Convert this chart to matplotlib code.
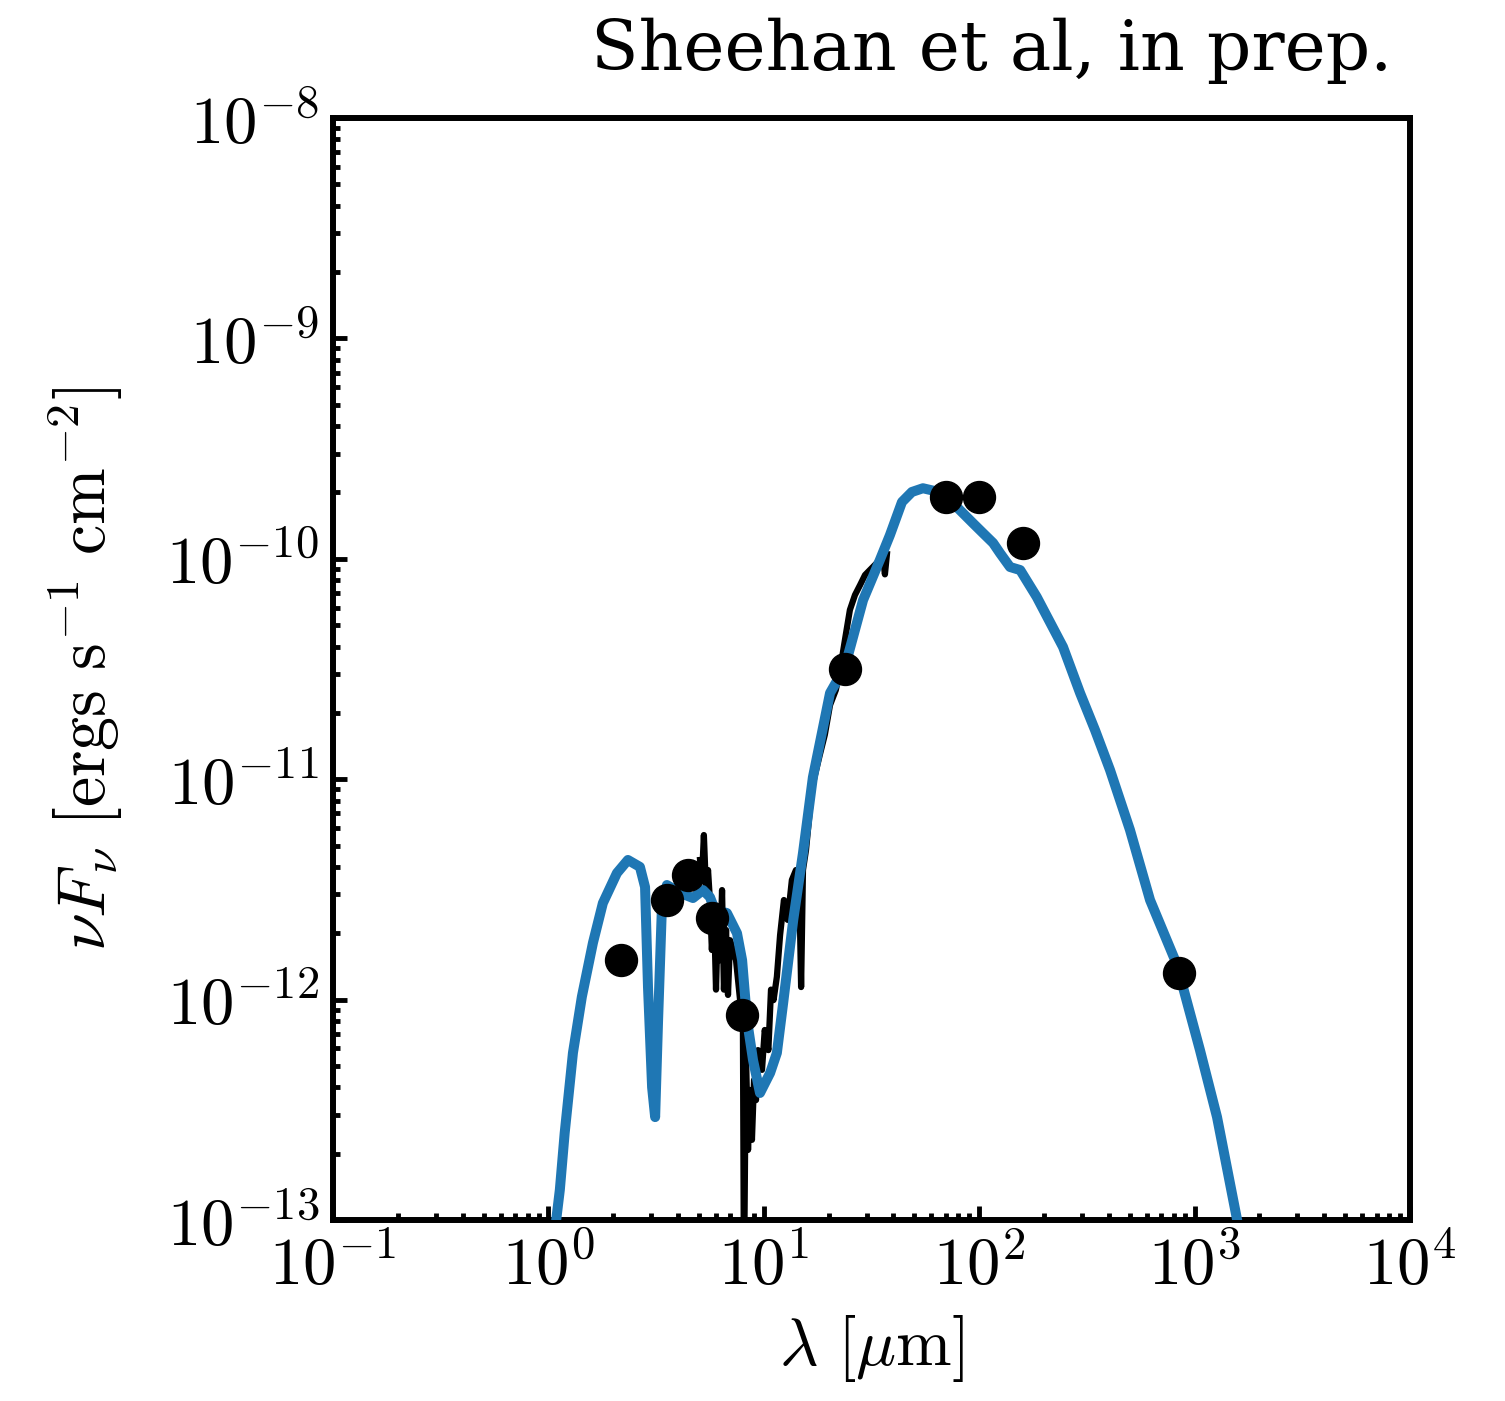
import numpy as np
import matplotlib
matplotlib.use("Agg")
import matplotlib.pyplot as plt
from matplotlib.ticker import FuncFormatter

plt.rcParams['mathtext.fontset'] = 'cm'
plt.rcParams['font.family'] = ['DejaVu Serif']

# Photometry (wavelength in micron, nuFnu in erg/s/cm^2)
phot_wave = [2.17, 3.56, 4.45, 5.75, 7.93, 23.8, 70.0, 100.0, 160.0, 850.0]
phot_flux = [1.51e-12, 2.83e-12, 3.67e-12, 2.34e-12, 8.5e-13, 3.16e-11, 1.9e-10, 1.9e-10, 1.18e-10, 1.32e-12]

# Spitzer IRS spectrum
spec_wave = [5.06, 5.16, 5.27, 5.39, 5.51, 5.62, 5.74, 5.87, 6.00, 6.12, 6.26, 6.40, 6.53, 6.68,
             6.82, 6.97, 7.19, 7.43, 7.76, 8.00, 8.09, 8.26, 8.45, 8.63, 8.81, 9.01, 9.20, 9.40,
             9.81, 10.1, 10.5, 10.8, 11.1, 11.5, 11.9, 12.4, 12.9, 13.5, 14.1, 14.6, 14.9, 15.2,
             15.7, 16.2, 16.7, 17.3, 18.2, 19.2, 20.3, 21.6, 22.6, 23.8, 25.1, 26.5, 28.0, 29.5,
             31.1, 32.8, 34.6, 35.7, 36.5, 37.3]
spec_flux = [4.30e-12, 3.49e-12, 5.58e-12, 3.14e-12, 3.87e-12, 2.83e-12, 1.68e-12, 2.55e-12,
             1.11e-12, 2.30e-12, 1.51e-12, 3.14e-12, 1.11e-12, 2.07e-12, 1.05e-12, 1.86e-12,
             1.68e-12, 1.51e-12, 9.95e-13, 7.28e-13, 5.0e-14, 5.90e-13, 2.08e-13, 3.89e-13,
             2.31e-13, 4.32e-13, 3.50e-13, 5.90e-13, 4.80e-13, 7.28e-13, 5.90e-13, 1.11e-12,
             9.95e-13, 1.27e-12, 1.96e-12, 2.83e-12, 2.30e-12, 3.49e-12, 3.87e-12, 3.49e-12,
             1.14e-12, 3.87e-12, 4.77e-12, 6.53e-12, 8.93e-12, 1.05e-11, 1.29e-11, 1.59e-11,
             2.17e-11, 2.54e-11, 3.13e-11, 4.28e-11, 5.86e-11, 6.85e-11, 7.61e-11, 8.44e-11,
             8.90e-11, 9.38e-11, 9.89e-11, 1.03e-10, 8.5e-11, 1.05e-10]

# Model SED
model_wave = [1.08, 1.13, 1.19, 1.30, 1.43, 1.61, 1.79, 2.08, 2.34, 2.66, 2.81, 2.90, 3.03, 3.13,
              3.23, 3.37, 3.55, 4.08, 4.69, 5.22, 5.62, 5.93, 6.74, 7.51, 7.93, 8.36, 8.91, 9.60,
              10.7, 11.5, 12.3, 13.7, 15.2, 16.9, 20.3, 23.8, 28.9, 34.6, 38.5, 43.8, 48.7, 54.8,
              67.9, 81.5, 93.6, 104, 116, 125, 139, 155, 185, 245, 294, 345, 405, 501, 621, 828,
              1059, 1271, 1592]
model_flux = [9.5e-14, 1.37e-13, 2.48e-13, 5.73e-13, 1.03e-12, 1.81e-12, 2.74e-12, 3.75e-12,
              4.30e-12, 4.0e-12, 3.24e-12, 1.14e-12, 4.0e-13, 2.93e-13, 8.07e-13, 2.74e-12,
              3.31e-12, 3.05e-12, 2.89e-12, 3.14e-12, 2.92e-12, 2.55e-12, 2.47e-12, 2.0e-12,
              1.51e-12, 8.07e-13, 5.32e-13, 3.77e-13, 4.65e-13, 5.73e-13, 9.66e-13, 2.30e-12,
              4.62e-12, 1.02e-11, 2.46e-11, 3.23e-11, 6.50e-11, 9.89e-11, 1.28e-10, 1.81e-10,
              2.01e-10, 2.09e-10, 1.99e-10, 1.66e-10, 1.45e-10, 1.31e-10, 1.18e-10, 1.06e-10,
              9.18e-11, 8.89e-11, 6.71e-11, 3.98e-11, 2.46e-11, 1.67e-11, 1.10e-11, 5.89e-12,
              2.83e-12, 1.44e-12, 5.9e-13, 2.93e-13, 9.5e-14]

fig = plt.figure(figsize=(15.05, 14.01), dpi=100)
ax = fig.add_axes([333/1505, 1-1220/1401, (1410-333)/1505, (1220-118)/1401])

ax.plot(spec_wave, spec_flux, color='black', lw=4.5, zorder=2, solid_joinstyle='round')
ax.plot(model_wave, model_flux, color='#1f77b4', lw=7.2, zorder=3, solid_joinstyle='round',
        solid_capstyle='round')
ax.plot(phot_wave, phot_flux, 'o', color='black', ms=23, zorder=4, mec='black')

ax.set_xscale('log')
ax.set_yscale('log')
ax.set_xlim(0.1, 1e4)
ax.set_ylim(1e-13, 1e-8)

fmt = FuncFormatter(lambda v, p: r'$10^{%d}$' % int(round(np.log10(v))))
ax.xaxis.set_major_formatter(fmt)
ax.yaxis.set_major_formatter(fmt)

for s in ax.spines.values():
    s.set_linewidth(4.3)
ax.tick_params(which='both', direction='in', top=False, right=False, labelsize=48, pad=10)
ax.tick_params(which='major', length=10, width=3.5)
ax.tick_params(which='minor', length=5, width=3.5)

ax.set_xlabel(r'$\lambda\ [\mu\mathrm{m}]$', fontsize=48, labelpad=10)
ax.set_ylabel(r'$\nu F_\nu\ [\mathrm{ergs\ s^{-1}\ cm^{-2}}]$', fontsize=49, labelpad=30)

fig.text(1392/1505, 1-70/1401, 'Sheehan et al, in prep.', ha='right', va='baseline',
         fontsize=50, family='DejaVu Serif')

fig.savefig('out.png', dpi=100)
